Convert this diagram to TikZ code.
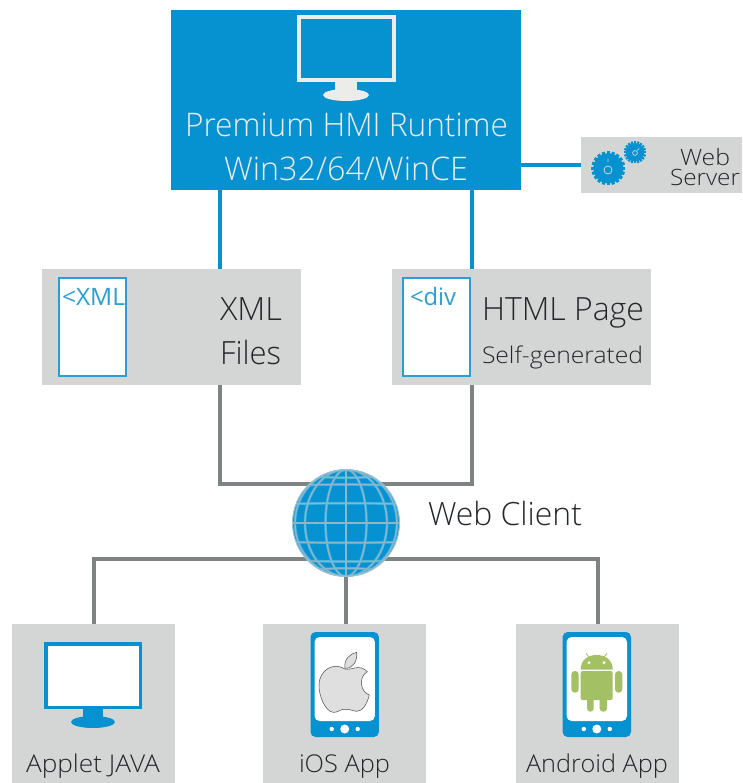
\documentclass[tikz,border=0pt]{standalone}
\usepackage{fontspec}
\usepackage{graphicx}
\setmainfont{Open Sans Light}
\newfontfamily\regfont{Open Sans}
\definecolor{hmiblue}{HTML}{0692D0}
\definecolor{docblue}{HTML}{2A9FD6}
\definecolor{panel}{HTML}{D4D6D6}
\definecolor{wire}{HTML}{7F8283}
\definecolor{ink}{HTML}{24272A}
\definecolor{pale}{HTML}{ECECEA}
\definecolor{droid}{HTML}{A4C064}
\newcommand{\fittext}[3]{\resizebox{#1pt}{\height}{\fontsize{#2pt}{#2pt}\selectfont #3}}
\tikzset{
  x=1pt,y=-1pt,
  panelbox/.style={fill=panel,draw=none,inner sep=0pt,outer sep=0pt},
  docbox/.style={fill=white,draw=docblue,line width=2pt,inner sep=0pt,outer sep=0pt,minimum width=67pt,minimum height=98pt},
  label/.style={anchor=base west,inner sep=0pt,outer sep=0pt,text=ink},
  bluewire/.style={draw=hmiblue,line width=4pt},
  graywire/.style={draw=wire,line width=4pt},
  phone/.pic={
    \fill[hmiblue,rounded corners=5pt] (-34.2,-52.5) rectangle (34.2,52.5);
    \fill[white,rounded corners=5pt] (-30.2,-47.5) rectangle (30.2,36.5);
    \fill[white] (0,44.5) circle (4.5) (-13,44.5) circle (2.2) (13,44.5) circle (2.2);
  },
  gear/.pic={
    \fill[hmiblue] (0,0) circle (\gearr);
    \foreach \a in {0,18,...,342}
      \fill[hmiblue,rotate=\a] (-\gearw,\gearr-0.5) rectangle (\gearw,\gearr+2);
  }
}
\begin{document}
\begin{tikzpicture}
\useasboundingbox (0,0) rectangle (742,783);
% panels
\node[panelbox,minimum width=350pt,minimum height=180pt,fill=hmiblue] (hmi) at (346,100) {};
\node[panelbox,minimum width=161pt,minimum height=56pt] (web) at (661.5,165) {};
\node[panelbox,minimum width=259pt,minimum height=116pt] (xml) at (171.5,327) {};
\node[panelbox,minimum width=259pt,minimum height=116pt] (html) at (521.5,327) {};
\node[panelbox,minimum width=163pt,minimum height=159pt] (applet) at (93.5,703.5) {};
\node[panelbox,minimum width=163pt,minimum height=159pt] (ios) at (344.5,703.5) {};
\node[panelbox,minimum width=163pt,minimum height=159pt] (android) at (597.5,703.5) {};
\node[circle,inner sep=0pt,outer sep=0pt,minimum size=107pt] (globe) at (346,523) {};
\coordinate (busTop) at (346,484);
\coordinate (busBottom) at (346,559);
% connectors
\draw[bluewire] (220,0 |- hmi.south) -- (220,0 |- xml.north);
\draw[bluewire] (472,0 |- hmi.south) -- (472,0 |- html.north);
\draw[bluewire] (hmi.east) ++(0,65) -- (web.west);
\draw[graywire] (220,0 |- xml.south) |- (busTop) -| (472,0 |- html.south);
\draw[graywire] (applet.north) |- (busBottom) -| (android.north);
\draw[graywire] (globe.south) -- (globe.south |- ios.north);
% main monitor
\draw[pale,line width=4pt] (299,17) rectangle (394,80);
\fill[pale] (335,82) rectangle (357,91);
\fill[pale] (346,95) ellipse (23 and 6);
\node[label,text=pale] (hmititle) at (185,137) {\fittext{323}{32.5}{Premium HMI Runtime}};
\node[label,text=pale] (hmisub) at (224,181) {\fittext{244}{32.5}{Win32/64/WinCE}};
% web server
\def\gearr{15}\def\gearw{1.6}
\pic at (608.3,168.3) {gear};
\def\gearr{9.2}\def\gearw{1.1}
\pic at (635,152.3) {gear};
\draw[panel,line width=0.8pt] (608,170) circle (4) (608,162) -- (608,159);
\draw[panel,line width=0.7pt] (635,153) circle (2.4) (637,150.5) -- (639,148.5);
\node[label] (webA) at (680,166) {\fittext{50}{22.5}{Web}};
\node[label] (webB) at (670,186) {\fittext{70}{22.5}{Server}};
% xml and html
\node[docbox] (xmldoc) at (92.8,327) {};
\node[docbox] (htmldoc) at (436.8,327) {};
\node[label,text=docblue] (xmltag) at (62,305) {\fittext{63}{24}{\regfont <XML}};
\node[label,text=docblue] (divtag) at (410,305) {\fittext{46}{24}{\regfont <div}};
\node[label] (xmlA) at (220,320) {\fittext{62}{32}{XML}};
\node[label] (xmlB) at (220,364) {\fittext{61}{32}{Files}};
\node[label] (htmlA) at (482,320) {\fittext{162}{32}{HTML Page}};
\node[label] (htmlB) at (482,363) {\fittext{161}{23}{Self-generated}};
% globe
\begin{scope}
  \clip (346,523) circle (53.5);
  \fill[hmiblue] (346,523) circle (53.5);
  \foreach \col/\w in {3BB0E2/2.6,8DB6C8/1.3}{
    \definecolor{gl}{HTML}{\col}
    \begin{scope}[draw=gl,line width=\w pt]
      \draw (346,470) -- (346,576);
      \draw (346,523) ellipse (20.5 and 53.5);
      \draw (346,523) ellipse (41 and 53.5);
      \draw (346,523) ellipse (51 and 53.5);
      \draw (290,523) -- (402,523);
      \draw (290,504) .. controls (320,503) and (372,503) .. (402,504);
      \draw (290,542) .. controls (320,543) and (372,543) .. (402,542);
      \draw (290,486) .. controls (320,484) and (372,484) .. (402,486);
      \draw (290,560) .. controls (320,562) and (372,562) .. (402,560);
      \draw (300,474) .. controls (325,479) and (367,479) .. (392,474);
      \draw (300,572) .. controls (325,567) and (367,567) .. (392,572);
    \end{scope}
  }
\end{scope}
\draw[draw=white!60!hmiblue!80!gray,line width=1pt] (346,523) circle (53.5);
\node[label] (clientlabel) at (428,525) {\fittext{154}{32}{Web Client}};
% applet monitor
\fill[white] (46,644) rectangle (140.5,707.5);
\draw[hmiblue,line width=3.5pt] (46.2,644.2) rectangle (140.5,707.5);
\fill[hmiblue] (83,709) rectangle (103,717);
\fill[hmiblue] (93,722) ellipse (22 and 6);
\node[label] (appletlabel) at (26,772) {\fittext{134}{24.5}{Applet JAVA}};
% ios phone
\pic at (344.7,684.5) {phone};
\begin{scope}[shift={(260,620)},x=0.3333pt,y=-0.3333pt]
  \path[fill=gray!25,draw=black!70,line width=0.5pt]
    (255,147) .. controls (275,152) and (298,130) .. (322,155)
    .. controls (295,170) and (300,215) .. (328,225)
    .. controls (322,250) and (308,275) .. (290,274)
    .. controls (275,272) and (265,266) .. (250,268)
    .. controls (238,270) and (232,278) .. (220,277)
    .. controls (195,275) and (176,225) .. (177,195)
    .. controls (178,150) and (220,125) .. (255,147) -- cycle;
  \path[fill=gray!25,draw=black!70,line width=0.5pt]
    (255,145) .. controls (250,118) and (272,100) .. (290,97)
    .. controls (293,122) and (280,145) .. (255,145) -- cycle;
\end{scope}
\node[label] (ioslabel) at (299,772) {\fittext{91}{24.5}{iOS App}};
% android phone
\pic at (596.8,684.5) {phone};
\fill[droid] (580.7,669.5) .. controls (580.7,660) and (588,655) .. (596.7,655)
  .. controls (605.4,655) and (612.7,660) .. (612.7,669.5) -- cycle;
\fill[droid,rounded corners=2pt] (580.7,671) rectangle (612.7,700);
\fill[droid,rounded corners=3.5pt] (571.3,671) rectangle (578.7,692.7);
\fill[droid,rounded corners=3.5pt] (615,671) rectangle (622.3,692.7);
\fill[droid,rounded corners=3.3pt] (587,695) rectangle (593.7,711.7);
\fill[droid,rounded corners=3.3pt] (599.7,695) rectangle (607,711.7);
\draw[droid,line width=0.8pt] (586,653.3) -- (590,658.3) (607,653.3) -- (603,658.3);
\fill[white] (589,662.7) circle (1.7) (604,662.7) circle (1.7);
\node[label] (androidlabel) at (526,772) {\fittext{142}{24.5}{Android App}};
\end{tikzpicture}
\end{document}
